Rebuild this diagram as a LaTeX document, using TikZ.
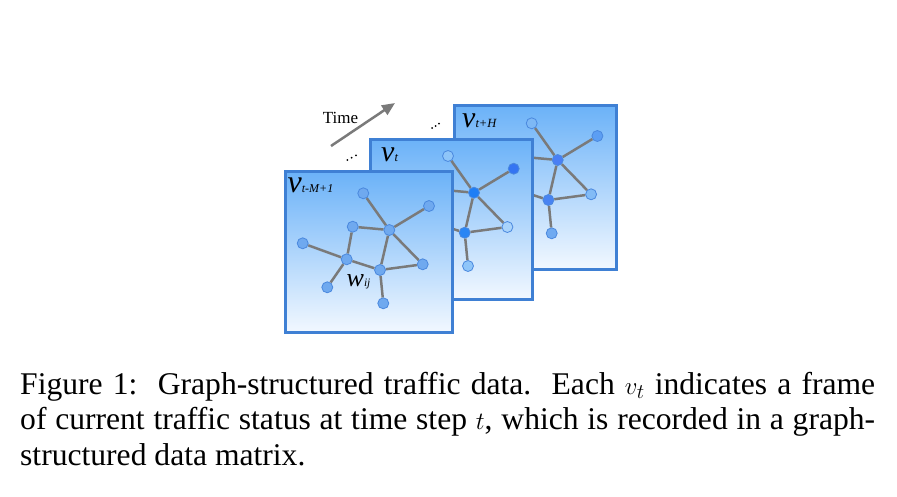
\documentclass[tikz,border=0pt]{standalone}
\usepackage{fontspec}
\setmainfont{Liberation Serif}
\usetikzlibrary{arrows.meta}
\definecolor{framecol}{HTML}{3F80D4}
\definecolor{fracetop}{HTML}{6BB2F8}
\definecolor{facebot}{HTML}{F2F8FF}
\definecolor{edgecol}{HTML}{7A7A7A}
\definecolor{ndlight}{HTML}{6FA9EF}
\definecolor{ndborder}{HTML}{4A88DE}
\definecolor{bA}{HTML}{7DB8F5}
\definecolor{bB}{HTML}{5C9EF3}
\definecolor{bC}{HTML}{4A7FF4}
\definecolor{bD}{HTML}{4883F2}
\definecolor{bE}{HTML}{82BBF6}
\definecolor{bF}{HTML}{6FAAF1}
\definecolor{mA}{HTML}{8EC5F9}
\definecolor{mB}{HTML}{3474F2}
\definecolor{mC}{HTML}{1F7EF5}
\definecolor{mD}{HTML}{2A86F4}
\definecolor{mE}{HTML}{A9D3FB}
\tikzset{
  frame/.style={draw=framecol, line width=3pt, top color=fracetop, bottom color=facebot, anchor=north west, inner sep=0pt},
  gnode/.style={circle, draw=ndborder, line width=0.8pt, fill=#1, minimum size=11pt, inner sep=0pt},
  gnode/.default=ndlight,
  gedge/.style={draw=edgecol, line width=2.5pt},
  timearrow/.style={draw=edgecol, line width=2.5pt, -{Triangle[length=13pt,width=11pt]}},
  caption/.style={anchor=base west, inner sep=0pt, font=\fontsize{31.6}{36}\selectfont},
  bigv/.style={anchor=base west, inner sep=0pt}
}
\newcommand\edgesof[1]{%
  \draw[gedge] (#1-1) -- (#1-4);
  \draw[gedge] (#1-2) -- (#1-4);
  \draw[gedge] (#1-3) -- (#1-4);
  \draw[gedge] (#1-3) -- (#1-6);
  \draw[gedge] (#1-5) -- (#1-6);
  \draw[gedge] (#1-6) -- (#1-9);
  \draw[gedge] (#1-6) -- (#1-7);
  \draw[gedge] (#1-4) -- (#1-7);
  \draw[gedge] (#1-4) -- (#1-8);
  \draw[gedge] (#1-7) -- (#1-8);
  \draw[gedge] (#1-7) -- (#1-10);
}
\newcommand\capline[1]{\hbox to 855pt{#1}}
\begin{document}
\begin{tikzpicture}[x=1pt,y=-1pt]
\useasboundingbox (0,0) rectangle (897,496);

% time arrow
\coordinate (ta) at (331,146);
\coordinate (th) at (395,103);
\draw[timearrow] (ta) -- (th);
\node[anchor=base, inner sep=0pt, font=\fontsize{17}{17}\selectfont] (time) at (340.5,123) {Time};

% dots
\fill (347.3,160) circle (1pt);
\fill (351.7,157.7) circle (1pt);
\fill (356,155.3) circle (1pt);
\fill (432,128) circle (1pt);
\fill (435.5,126) circle (1pt);
\fill (439,123.7) circle (1pt);

% ---------- back frame ----------
\node[frame, minimum width=162pt, minimum height=164pt] (Fb) at (453,104) {};
\begin{scope}[shift={(168.4,-70)}]
\node[gnode] (b-3) at (352.7,226.7) {};
\node[gnode] (b-5) at (302.7,243.3) {};
\node[gnode] (b-6) at (346.7,259.3) {};
\node[gnode] (b-9) at (327.3,287.3) {};
\node[gnode=bA] (b-1) at (363.3,193.3) {};
\node[gnode=bB] (b-2) at (429,206) {};
\node[gnode=bC] (b-4) at (389.3,230) {};
\node[gnode=bD] (b-7) at (380,270) {};
\node[gnode=bE] (b-8) at (422.7,264.3) {};
\node[gnode=bF] (b-10) at (383.3,303.3) {};
\end{scope}
\edgesof{b}
\node[bigv] (lb) at (462,127.3) {\fontsize{30}{30}\selectfont\itshape v\fontsize{12.5}{12.5}\selectfont t+H};

% ---------- middle frame ----------
\node[frame, minimum width=162pt, minimum height=160pt] (Fm) at (369,138) {};
\begin{scope}[shift={(84.7,-37.3)}]
\node[gnode] (m-3) at (352.7,226.7) {};
\node[gnode] (m-5) at (302.7,243.3) {};
\node[gnode] (m-6) at (346.7,259.3) {};
\node[gnode] (m-9) at (327.3,287.3) {};
\node[gnode=mA] (m-1) at (363.3,193.3) {};
\node[gnode=mB] (m-2) at (429,206) {};
\node[gnode=mC] (m-4) at (389.3,230) {};
\node[gnode=mD] (m-7) at (380,270) {};
\node[gnode=mE] (m-8) at (422.7,264.3) {};
\node[gnode=mA] (m-10) at (383.3,303.3) {};
\end{scope}
\edgesof{m}
\node[bigv] (lm) at (381,161.7) {\fontsize{30}{30}\selectfont\itshape v\fontsize{12.5}{12.5}\selectfont t};

% ---------- front frame ----------
\node[frame, minimum width=167pt, minimum height=161pt] (Ff) at (284,170) {};
\node[gnode] (f-1) at (363.3,193.3) {};
\node[gnode] (f-2) at (429,206) {};
\node[gnode] (f-3) at (352.7,226.7) {};
\node[gnode] (f-4) at (389.3,230) {};
\node[gnode] (f-5) at (302.7,243.3) {};
\node[gnode] (f-6) at (346.7,259.3) {};
\node[gnode] (f-7) at (380,270) {};
\node[gnode] (f-8) at (422.7,264.3) {};
\node[gnode] (f-9) at (327.3,287.3) {};
\node[gnode] (f-10) at (383.3,303.3) {};
\edgesof{f}
\node[bigv] (lf) at (287.5,192.3) {\fontsize{32}{32}\selectfont\itshape v\fontsize{12}{12}\selectfont t-M+1};
\node[bigv] (w) at (346.5,286.5) {\fontsize{26}{26}\selectfont\itshape w\fontsize{11.5}{11.5}\selectfont ij};

% ---------- caption ----------
\node[caption] (c1) at (20,394) {\capline{Figure 1:\ \ Graph-structured traffic data.\ \ Each $v_t$ indicates a frame}};
\node[caption] (c2) at (20,429.5) {\capline{of current traffic status at time step $t$, which is recorded in a graph-}};
\node[caption] (c3) at (20,465) {structured data matrix.};
\end{tikzpicture}
\end{document}
